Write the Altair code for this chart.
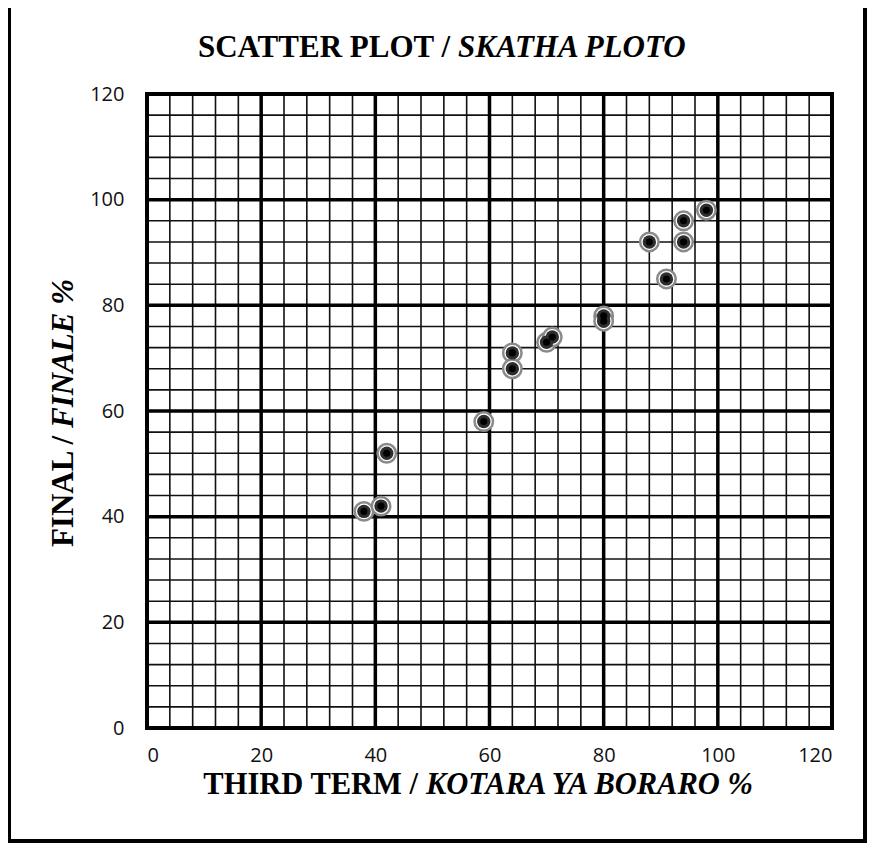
import altair as alt
import pandas as pd

# data
third_term = [38, 41, 42, 59, 64, 64, 70, 71, 80, 80, 88, 91, 94, 94, 98]
final_pct = [41, 42, 52, 58, 71, 68, 73, 74, 78, 77, 92, 85, 96, 92, 98]
axis_ticks = [0, 20, 40, 60, 80, 100, 120]
minor_grid = [0, 4, 8, 12, 16, 20, 24, 28, 32, 36, 40, 44, 48, 52, 56, 60, 64, 68,
              72, 76, 80, 84, 88, 92, 96, 100, 104, 108, 112, 116, 120]
major_grid = [0, 20, 40, 60, 80, 100, 120]

W, H = 685, 634
pts = pd.DataFrame({"x": third_term, "y": final_pct})
xs = alt.Scale(domain=[0, 120], nice=False, zero=False)
ys = alt.Scale(domain=[0, 120], nice=False, zero=False)

x_axis = alt.Axis(values=axis_ticks, title=None, grid=False, ticks=False, domain=False,
                  labelFont="Open Sans", labelFontSize=20, labelColor="#111",
                  labelPadding=17)
y_axis = alt.Axis(values=axis_ticks, title=None, grid=False, ticks=False, domain=False,
                  labelFont="Open Sans", labelFontSize=20, labelColor="#111",
                  labelPadding=23)

minor_v = alt.Chart(pd.DataFrame({"g": minor_grid})).mark_rule(color="#111", strokeWidth=1.6).encode(
    x=alt.X("g:Q", scale=xs, axis=x_axis))
minor_h = alt.Chart(pd.DataFrame({"g": minor_grid})).mark_rule(color="#111", strokeWidth=1.6).encode(
    y=alt.Y("g:Q", scale=ys, axis=y_axis))
major_v = alt.Chart(pd.DataFrame({"g": major_grid})).mark_rule(color="#000", strokeWidth=3.5).encode(
    x=alt.X("g:Q", scale=xs))
major_h = alt.Chart(pd.DataFrame({"g": major_grid})).mark_rule(color="#000", strokeWidth=3.5).encode(
    y=alt.Y("g:Q", scale=ys))

one = pd.DataFrame({"a": [0]})
plot_border = alt.Chart(one).mark_rect(fill=None, stroke="#000", strokeWidth=4).encode(
    x=alt.value(0), x2=alt.value(W), y=alt.value(0), y2=alt.value(H))
frame = alt.Chart(one).mark_rect(fill=None, stroke="#000", strokeWidth=4).encode(
    x=alt.value(-138), x2=alt.value(718), y=alt.value(-88), y2=alt.value(747))

outer = alt.Chart(pts).mark_point(shape="circle", filled=True, fill="#fff", stroke="#8a8a8a",
                                  strokeWidth=2.5, size=340, opacity=1).encode(
    x=alt.X("x:Q", scale=xs), y=alt.Y("y:Q", scale=ys))
mid = alt.Chart(pts).mark_point(shape="circle", filled=True, color="#2e2e2e", size=180, opacity=1).encode(
    x=alt.X("x:Q", scale=xs), y=alt.Y("y:Q", scale=ys))
inner = alt.Chart(pts).mark_point(shape="circle", filled=True, color="#000", size=50, opacity=1).encode(
    x=alt.X("x:Q", scale=xs), y=alt.Y("y:Q", scale=ys))

TF = "Liberation Serif"
def txt(t, x, y, align, fs, italic=False, angle=0):
    kw = dict(text=t, font=TF, fontSize=fs, fontWeight="bold", align=align,
              baseline="alphabetic", color="#000")
    if italic:
        kw["fontStyle"] = "italic"
    if angle:
        kw["angle"] = angle
    return alt.Chart(one).mark_text(**kw).encode(x=alt.value(x), y=alt.value(y))

title_split = 307
xt_split = 275
yt_split = 338
texts = [
    txt("SCATTER PLOT /", title_split - 4, -37, "right", 31),
    txt("SKATHA PLOTO", title_split + 4, -37, "left", 31, italic=True),
    txt("THIRD TERM /", xt_split - 4, H + 66, "right", 30.5),
    txt("KOTARA YA BORARO %", xt_split + 4, H + 66, "left", 30.5, italic=True),
    txt("FINAL /", -74, yt_split + 4, "right", 31, angle=270),
    txt("FINALE %", -74, yt_split - 4, "left", 31, italic=True, angle=270),
]

chart = alt.layer(minor_v, minor_h, major_v, major_h, plot_border, outer, mid, inner, frame,
                  *texts).properties(
    width=W, height=H,
    autosize=alt.AutoSizeParams(type="none"),
    padding={"left": 139, "top": 86, "right": 35, "bottom": 115},
).configure_view(stroke=None)

chart.save("out.html", embed_options={"renderer": "svg", "actions": False})
